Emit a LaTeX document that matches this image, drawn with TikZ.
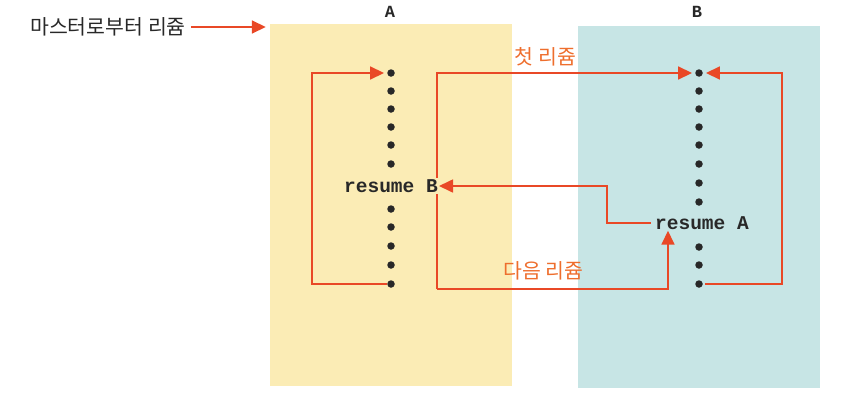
\documentclass[tikz,border=0pt]{standalone}
\usepackage{fontspec}
\newfontfamily\kofont{Noto Sans CJK KR}
\setmonofont{Liberation Mono}
\usepackage{tikz}
\usetikzlibrary{arrows.meta, positioning, calc}
\definecolor{myred}{RGB}{233,72,38}
\definecolor{myorange}{RGB}{238,110,45}
\definecolor{mydark}{RGB}{40,40,40}
\definecolor{panelyel}{RGB}{251,236,181}
\definecolor{panelteal}{RGB}{199,229,229}
\tikzset{
  panel/.style={rectangle, minimum width=242pt, minimum height=362pt,
    inner sep=0pt},
  dot/.style={circle, fill=mydark, minimum size=7.5pt, inner sep=0pt},
  flow/.style={-{Triangle[length=14pt,width=13pt]}, line width=1.7pt,
    color=myred},
  codelbl/.style={font=\fontsize{19.5}{19.5}\selectfont\ttfamily\bfseries,
    text=mydark, inner sep=1pt},
  hdrlbl/.style={font=\fontsize{17}{17}\selectfont\ttfamily\bfseries,
    text=mydark, inner sep=0pt},
  kolbl/.style={font=\fontsize{20.5}{20.5}\selectfont\kofont, text=myorange,
    inner sep=0pt}
}
\begin{document}
\begin{tikzpicture}[x=1pt, y=-1pt]
  \useasboundingbox (0,0) rectangle (860,402);
  % the two coroutines
  \node[panel, fill=panelyel] (panA) at (391,205) {};
  \node[panel, fill=panelteal] (panB) at (698.5,207) {};
  \node[hdrlbl] (hdrA) at (390,12) {A};
  \node[hdrlbl] (hdrB) at (697,12) {B};
  % statements
  \foreach \y [count=\i] in {73,91,109,127,145,164,209,227,246,265,284}
    \node[dot] (a\i) at (391,\y) {};
  \foreach \y [count=\i] in {73,91,109,127,145,164,183,202,247,265,284}
    \node[dot] (b\i) at (699,\y) {};
  % entry from the master
  \node[font=\fontsize{20.5}{20.5}\selectfont\kofont, text=mydark, inner sep=0pt]
    (mst) at (108,27) {마스터로부터 리쥼};
  \draw[flow, shorten <=5pt, shorten >=4pt] (mst.east) -- (mst.east -| panA.west);
  % loop inside A
  \coordinate (loopA) at (312,0);
  \draw[flow, shorten >=3pt] (a11.west) -- (a11.west -| loopA) |- (a1.west);
  % A hands over to B
  \coordinate (turnA) at (437,289);
  \draw[flow, shorten >=3pt] (turnA) |- (b1.west)
    node[kolbl, pos=0.71, above=6pt] (first) {첫 리쥼};
  \node[codelbl, fill=panelyel] (resB) at (391,186) {resume B};
  \node[codelbl] (resA) at (702,223) {resume A};
  \draw[flow] (turnA) -| ([xshift=14pt]resA.south west)
    node[kolbl, pos=0.23, above=8pt] (next) {다음 리쥼};
  % B hands back to A
  \coordinate (midAB) at (607,0);
  \draw[flow, shorten <=3pt] (resA.west) -- (resA.west -| midAB) |- (resB.east);
  % loop inside B
  \coordinate (loopB) at (782,0);
  \draw[flow, shorten <=2pt, shorten >=3pt] (b11.east) -- (b11.east -| loopB) |- (b1.east);
\end{tikzpicture}
\end{document}
